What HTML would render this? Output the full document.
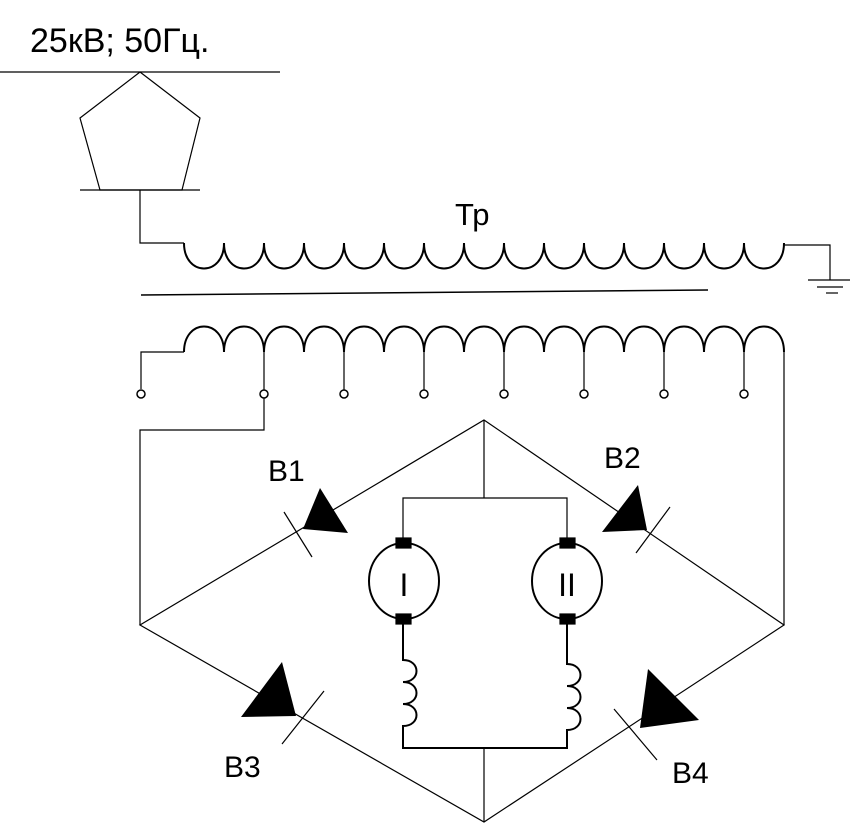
<!DOCTYPE html>
<html><head><meta charset="utf-8"><style>body{margin:0;background:#fff}svg{display:block}</style></head><body>
<svg width="850" height="825" viewBox="0 0 850 825" xmlns="http://www.w3.org/2000/svg" fill="none" stroke="#000" stroke-width="1.2">
<text x="30" y="52" font-family="Liberation Sans, sans-serif" font-size="34" fill="#000" stroke="none">25кВ; 50Гц.</text>
<line x1="0" y1="72" x2="280" y2="72"/>
<polygon points="140,72 200,118 182,190 100,190 80,118"/>
<line x1="80" y1="190" x2="200" y2="190"/>
<polyline points="140,190 140,243 184,243"/>
<text x="455" y="225" font-family="Liberation Sans, sans-serif" font-size="31" fill="#000" stroke="none">Тр</text>
<path stroke-width="2" d="M184,243 c0,34 40,34 40,0 c0,34 40,34 40,0 c0,34 40,34 40,0 c0,34 40,34 40,0 c0,34 40,34 40,0 c0,34 40,34 40,0 c0,34 40,34 40,0 c0,34 40,34 40,0 c0,34 40,34 40,0 c0,34 40,34 40,0 c0,34 40,34 40,0 c0,34 40,34 40,0 c0,34 40,34 40,0 c0,34 40,34 40,0 c0,34 40,34 40,0"/>
<polyline points="784,245 830,245 830,280"/>
<line x1="808" y1="280" x2="850" y2="280"/><line x1="817" y1="287" x2="843" y2="287"/><line x1="826" y1="293" x2="838" y2="293"/>
<line x1="141" y1="295" x2="708" y2="290" stroke-width="1.5"/>
<polyline points="141,389 141,352 184,352"/>
<path stroke-width="2" d="M184,352 c0,-34 40,-34 40,0 c0,-34 40,-34 40,0 c0,-34 40,-34 40,0 c0,-34 40,-34 40,0 c0,-34 40,-34 40,0 c0,-34 40,-34 40,0 c0,-34 40,-34 40,0 c0,-34 40,-34 40,0 c0,-34 40,-34 40,0 c0,-34 40,-34 40,0 c0,-34 40,-34 40,0 c0,-34 40,-34 40,0 c0,-34 40,-34 40,0 c0,-34 40,-34 40,0 c0,-34 40,-34 40,0"/>
<g stroke-width="1.5">
<circle cx="141" cy="394" r="4"/><circle cx="264" cy="394" r="4"/><circle cx="344" cy="394" r="4"/><circle cx="424" cy="394" r="4"/><circle cx="504" cy="394" r="4"/><circle cx="584" cy="394" r="4"/><circle cx="664" cy="394" r="4"/><circle cx="744" cy="394" r="4"/>
</g>
<line x1="264" y1="352" x2="264" y2="390"/><line x1="344" y1="352" x2="344" y2="390"/><line x1="424" y1="352" x2="424" y2="390"/><line x1="504" y1="352" x2="504" y2="390"/><line x1="584" y1="352" x2="584" y2="390"/><line x1="664" y1="352" x2="664" y2="390"/><line x1="744" y1="352" x2="744" y2="390"/>
<polyline points="264,398 264,430 140,430 140,625"/>
<polyline points="784,352 784,625"/>
<polygon points="484,420 784,625 484,822 140,625"/>
<polyline points="484,420 484,498"/>
<polyline points="403,540 403,498 567,498 567,540"/>
<rect x="396" y="538" width="15" height="10" fill="#000"/><rect x="560" y="538" width="15" height="10" fill="#000"/>
<ellipse cx="404" cy="581" rx="35" ry="38" stroke-width="2"/><ellipse cx="567" cy="581" rx="35" ry="38" stroke-width="2"/>
<rect x="396" y="614" width="15" height="10" fill="#000"/><rect x="560" y="614" width="15" height="10" fill="#000"/>
<text x="404" y="596" text-anchor="middle" font-family="Liberation Sans, sans-serif" font-size="32" fill="#000" stroke="none">I</text>
<text x="567" y="596" text-anchor="middle" font-family="Liberation Sans, sans-serif" font-size="32" fill="#000" stroke="none">II</text>
<path stroke-width="2" d="M403,624 V660 c18,0 18,22 0,22 c18,0 18,22 0,22 c18,0 18,22 0,22 V748 H567 V730 c18,0 18,-22 0,-22 c18,0 18,-22 0,-22 c18,0 18,-22 0,-22 V624"/>
<line x1="484" y1="748" x2="484" y2="822"/>
<g fill="#000" stroke="none">
<polygon points="320,488 303,529 348,533"/>
<polygon points="638,485 602,532 647,530"/>
<polygon points="282,662 241,717 296,716"/>
<polygon points="648,669 640,728 699,720"/>
</g>
<line x1="284" y1="512" x2="312" y2="557"/><line x1="670" y1="507" x2="636" y2="553"/>
<line x1="324" y1="691" x2="282" y2="744"/><line x1="614" y1="709" x2="657" y2="760"/>
<g font-family="Liberation Sans, sans-serif" font-size="30" fill="#000" stroke="none">
<text x="268" y="481">В1</text><text x="604" y="468">В2</text><text x="224" y="777">В3</text><text x="672" y="783">В4</text>
</g>
</svg>
</body></html>
